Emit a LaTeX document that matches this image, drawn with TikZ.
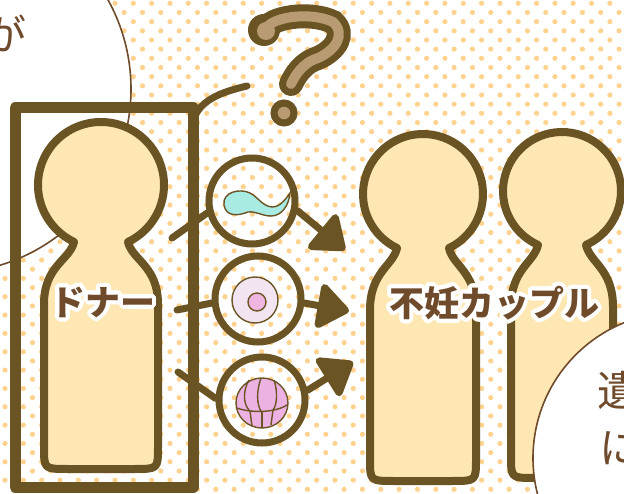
\documentclass[tikz,border=0pt]{standalone}
\usepackage{fontspec}
\newfontfamily\jp{Noto Sans CJK JP}
\usepackage{contour}
\contourlength{4pt}
\contournumber{32}
\usetikzlibrary{arrows.meta}

\definecolor{brd}{HTML}{6B5424}
\definecolor{skin}{HTML}{FFE7B3}
\definecolor{dotc}{HTML}{FFD38F}
\definecolor{ink}{HTML}{6F4A2B}
\definecolor{qfill}{HTML}{B89B73}
\definecolor{spermc}{HTML}{A8EBE3}
\definecolor{eggout}{HTML}{F2E4F0}
\definecolor{eggin}{HTML}{EEB6E0}
\definecolor{morula}{HTML}{ECB2E2}

% person: body centre x, head centre y, head radius, neck half width, body half width, bottom y
\newcommand\person[6]{%
  \pgfmathsetmacro\na{acos(#4/#3)}%
  \pgfmathsetmacro\ny{#2+#3*sin(\na)}%
  \draw[figure] ({#1+#4},\ny) arc[start angle=\na,end angle={-180-\na},radius=#3]
    .. controls ({#1-#4-4},{\ny+18}) and ({#1-#5},{\ny+24}) .. ({#1-#5},{\ny+62})
    -- ({#1-#5},{#6-22}) .. controls ({#1-#5},#6) .. ({#1-#5+24},#6)
    -- ({#1+#5-24},#6) .. controls ({#1+#5},#6) .. ({#1+#5},{#6-22})
    -- ({#1+#5},{\ny+62}) .. controls ({#1+#5},{\ny+24}) and ({#1+#4+4},{\ny+18}) .. cycle;
}

\begin{document}
\begin{tikzpicture}[x=1pt,y=-1pt,
  figure/.style={draw=brd,fill=skin,line width=8pt,line join=round},
  link/.style={draw=brd,line width=7pt,line cap=round},
  push/.style={link,-{Triangle[length=34pt,width=50pt,round]}},
  cell/.style={circle,draw=brd,line width=7pt,minimum size=86pt,inner sep=0pt},
  part/.style={draw=brd,line width=1.4pt},
  tag/.style={font=\jp\bfseries\fontsize{35}{35}\selectfont,text=ink,inner sep=0pt},
  bubble/.style={draw=ink,fill=white,line width=1.6pt},
  say/.style={font=\jp\fontsize{42}{42}\selectfont,text=ink,inner sep=0pt}]
	\useasboundingbox (0,0) rectangle (624,494);
	\clip (0,0) rectangle (624,494);
	\fill[white] (0,0) rectangle (624,494);
	% dotted paper
	\foreach \r in {0,...,54}
		\foreach \c in {-1,...,34}
			\fill[dotc] ({5+18.33*\c+9.17*mod(\r,2)},{3.3+9.17*\r}) circle[radius=2.6];
	% speech bubble, upper left
	\draw[bubble] (-53,89) circle[radius=184];
	\node[say,anchor=east] (saidL) at (27,33) {が};
	% donor in its frame
	\draw[brd,line width=11pt,line join=round] (15,108) rectangle (193,487);
	\person{101}{185}{63}{27}{57}{469}
	% what the donor gives
	\coordinate (d0) at (192,126);
	\coordinate (q0) at (247,86);
	\coordinate (d1) at (172,238);
	\coordinate (d2) at (177,310);
	\coordinate (d3) at (178,372);
	\coordinate (t1) at (345,250);
	\coordinate (t2) at (349,311);
	\coordinate (t3) at (353,362);
	\draw[link] (d0) .. controls (196,100) and (222,92) .. (q0);
	\node[cell] (sperm) at (252,201) {};
	\node[cell] (egg) at (258,299) {};
	\node[cell] (embryo) at (262,400) {};
	\draw[link] (d1) -- (sperm.195);
	\draw[link] (d2) -- (egg.185);
	\draw[link] (d3) -- (embryo.178);
	\draw[push] (sperm.-12) -- (t1);
	\draw[push] (egg.-5) -- (t2);
	\draw[push] (embryo.12) -- (t3);
	% sperm
	\filldraw[part,fill=spermc] (224,205) .. controls (222,192) and (240,188) .. (250,193)
		.. controls (258,197) and (262,206) .. (272,207)
		.. controls (280,207) and (285,200) .. (290,193)
		.. controls (289,205) and (282,216) .. (271,216)
		.. controls (262,216) and (256,211) .. (248,212)
		.. controls (238,216) and (226,217) .. cycle;
	% egg
	\filldraw[part,fill=eggout] (255,300) circle[radius=23];
	\filldraw[part,fill=eggin] (257,302) circle[radius=9];
	% embryo
	\filldraw[part,fill=morula] (262,403) ellipse[x radius=26,y radius=25];
	\draw[part] (237,408) .. controls (250,413) and (275,413) .. (287,405);
	\draw[part] (249,380) .. controls (242,392) and (244,405) .. (249,410);
	\draw[part] (261,378) .. controls (256,392) and (257,405) .. (261,411);
	\draw[part] (274,380) .. controls (278,392) and (277,405) .. (273,410);
	\draw[part] (250,411) -- (252,426);
	\draw[part] (262,412) -- (262,428);
	\draw[part] (273,410) -- (271,425);
	% question mark
	\fill[brd] (264,30) circle[radius=16];
	\draw[brd,line width=24pt,line cap=round] (265,31) .. controls (268,17) and (310,11) .. (333,22)
		.. controls (346,34) and (336,50) .. (318,58) .. controls (302,63) and (295,76) .. (291,84);
	\fill[qfill] (266,31) circle[radius=9];
	\draw[qfill,line width=10pt,line cap=round] (265,31) .. controls (268,17) and (310,11) .. (333,22)
		.. controls (346,34) and (336,50) .. (318,58) .. controls (302,63) and (295,76) .. (291,84);
	\filldraw[fill=qfill,draw=brd,line width=7pt] (284,113) circle[radius=10];
	% the couple
	\person{423}{194}{60}{26}{53}{481}
	\person{562}{191}{59}{24}{51}{478}
	% speech bubble, lower right
	\draw[bubble] (679,458) circle[radius=146];
	\node[say,anchor=west] (saidR1) at (597,390) {遺};
	\node[say,anchor=west] (saidR2) at (599,448) {に};
	% names
	\node[tag] (donor) at (103,304) {\contour{white}{ドナー}};
	\node[tag] (couple) at (494,305) {\contour{white}{不妊カップル}};
\end{tikzpicture}
\end{document}
